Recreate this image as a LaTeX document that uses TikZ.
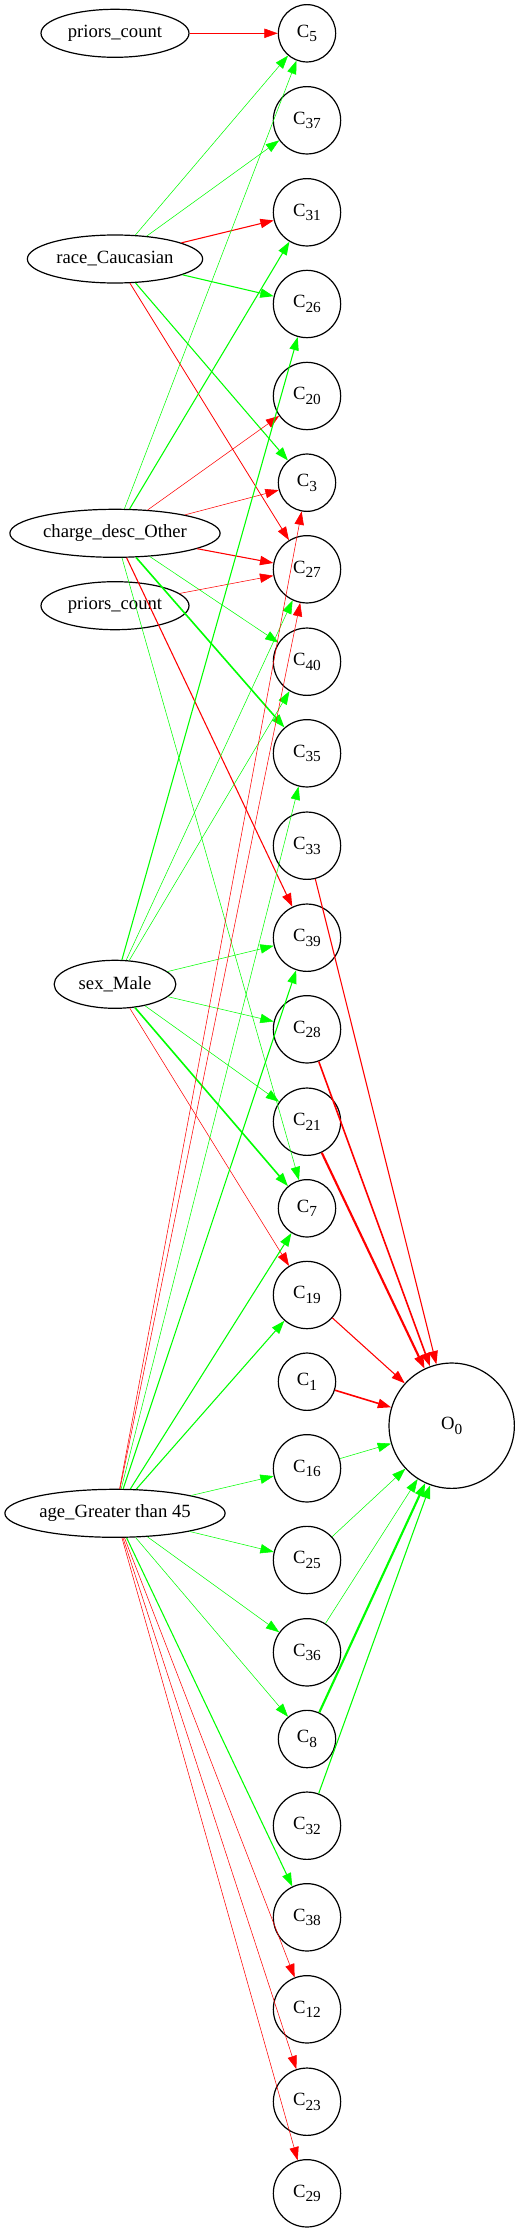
\documentclass[tikz,border=0pt]{standalone}
\usepackage{fontspec}
\setmainfont{Liberation Serif}
\usetikzlibrary{shapes.geometric,arrows.meta}
\definecolor{posgreen}{RGB}{0,255,0}
\definecolor{negred}{RGB}{255,0,0}
\newcommand{\csub}[1]{\raisebox{-3.5pt}{\fontsize{11.5}{12}\selectfont #1}}

\begin{document}
\begin{tikzpicture}[x=.75pt, y=-.75pt,
	>={Triangle[length=10pt,width=7pt]},
	every node/.style={font=\fontsize{14}{16}\selectfont},
	feat/.style={draw, ellipse, line width=.9pt, inner sep=0pt, minimum height=36pt},
	hid/.style={draw, circle, line width=.9pt, inner sep=0pt, minimum size=50.5pt},
	hids/.style={hid, minimum size=43pt},
	posedge/.style={->, draw=posgreen},
	negedge/.style={->, draw=negred}]
	
	\useasboundingbox (0,0) rectangle (520,2233);
	
	\node[feat, minimum width=111pt] (p1) at (115,33.3) {priors\_count};
	\node[feat, minimum width=131.5pt] (rc) at (115,259) {race\_Caucasian};
	\node[feat, minimum width=157.7pt] (cd) at (115,533.3) {charge\_desc\_Other};
	\node[feat, minimum width=111pt] (p2) at (115,605.7) {priors\_count};
	\node[feat, minimum width=91.3pt] (sm) at (115,984.3) {sex\_Male};
	\node[feat, minimum width=165.2pt] (ag) at (115,1513.3) {age\_Greater than 45};
	
	\node[hids] (c5) at (307,33.3) {C\csub{5}};
	\node[hid] (c37) at (307,120.3) {C\csub{37}};
	\node[hid] (c31) at (307,212.3) {C\csub{31}};
	\node[hid] (c26) at (307,304) {C\csub{26}};
	\node[hid] (c20) at (307,396) {C\csub{20}};
	\node[hids] (c3) at (307,482.7) {C\csub{3}};
	\node[hid] (c27) at (307,569.3) {C\csub{27}};
	\node[hid] (c40) at (307,661.7) {C\csub{40}};
	\node[hid] (c35) at (307,753.3) {C\csub{35}};
	\node[hid] (c33) at (307,845.7) {C\csub{33}};
	\node[hid] (c39) at (307,937.7) {C\csub{39}};
	\node[hid] (c28) at (307,1029.3) {C\csub{28}};
	\node[hid] (c21) at (307,1121.7) {C\csub{21}};
	\node[hids] (c7) at (307,1208.3) {C\csub{7}};
	\node[hid] (c19) at (307,1295) {C\csub{19}};
	\node[hids] (c1) at (307,1381.7) {C\csub{1}};
	\node[hid] (c16) at (307,1468.3) {C\csub{16}};
	\node[hid] (c25) at (307,1560) {C\csub{25}};
	\node[hid] (c36) at (307,1652.3) {C\csub{36}};
	\node[hids] (c8) at (307,1739) {C\csub{8}};
	\node[hid] (c32) at (307,1825.7) {C\csub{32}};
	\node[hid] (c38) at (307,1917.3) {C\csub{38}};
	\node[hid] (c12) at (307,2009.3) {C\csub{12}};
	\node[hid] (c23) at (307,2101.7) {C\csub{23}};
	\node[hid] (c29) at (307,2193.3) {C\csub{29}};
	
	\node[hid, minimum size=94pt] (o0) at (451.7,1425.7) {O\csub{0}};
	
	
	\draw[negedge, thin] (p1) -- (c5);
	
	\draw[posedge, thin] (rc) -- (c5);
	\draw[posedge, thin] (rc) -- (c37);
	\draw[negedge, thick] (rc) -- (c31);
	\draw[posedge, thick] (rc) -- (c26);
	\draw[posedge, thick] (rc) -- (c3);
	\draw[negedge, semithick] (rc) -- (c27);
	
	\draw[posedge, thin] (cd) -- (c5);
	\draw[posedge, thick] (cd) -- (c31);
	\draw[negedge, thin] (cd) -- (c20);
	\draw[negedge, thin] (cd) -- (c3);
	\draw[negedge, thick] (cd) -- (c27);
	\draw[posedge, thin] (cd) -- (c40);
	\draw[posedge, very thick] (cd) -- (c35);
	\draw[negedge, thick] (cd) -- (c39);
	\draw[posedge, thin] (cd) -- (c7);
	
	\draw[negedge, thin] (p2) -- (c27);
	
	\draw[posedge, thick] (sm) -- (c26);
	\draw[posedge, thin] (sm) -- (c27);
	\draw[posedge, thin] (sm) -- (c40);
	\draw[posedge, thin] (sm) -- (c39);
	\draw[posedge, thin] (sm) -- (c28);
	\draw[posedge, thin] (sm) -- (c21);
	\draw[posedge, very thick] (sm) -- (c7);
	\draw[negedge, thin] (sm) -- (c19);
	
	\draw[negedge, thin] (ag) -- (c3);
	\draw[negedge, thin] (ag) -- (c27);
	\draw[posedge, thin] (ag) -- (c35);
	\draw[posedge, thick] (ag) -- (c39);
	\draw[posedge, thick] (ag) -- (c7);
	\draw[posedge, thick] (ag) -- (c19);
	\draw[posedge, thin] (ag) -- (c16);
	\draw[posedge, thin] (ag) -- (c25);
	\draw[posedge, thin] (ag) -- (c36);
	\draw[posedge, thin] (ag) -- (c8);
	\draw[posedge, thick] (ag) -- (c38);
	\draw[negedge, thin] (ag) -- (c12);
	\draw[negedge, thin] (ag) -- (c23);
	\draw[negedge, thin] (ag) -- (c29);
	
	
	\draw[negedge, thick] (c33) -- (o0);
	\draw[negedge, very thick] (c28) -- (o0);
	\draw[negedge, ultra thick] (c21) -- (o0);
	\draw[negedge, thick] (c19) -- (o0);
	\draw[negedge, very thick] (c1) -- (o0);
	\draw[posedge, thin] (c16) -- (o0);
	\draw[posedge, thin] (c25) -- (o0);
	\draw[posedge, thin] (c36) -- (o0);
	\draw[posedge, ultra thick] (c8) -- (o0);
	\draw[posedge, thick] (c32) -- (o0);
	
\end{tikzpicture}
\end{document}
